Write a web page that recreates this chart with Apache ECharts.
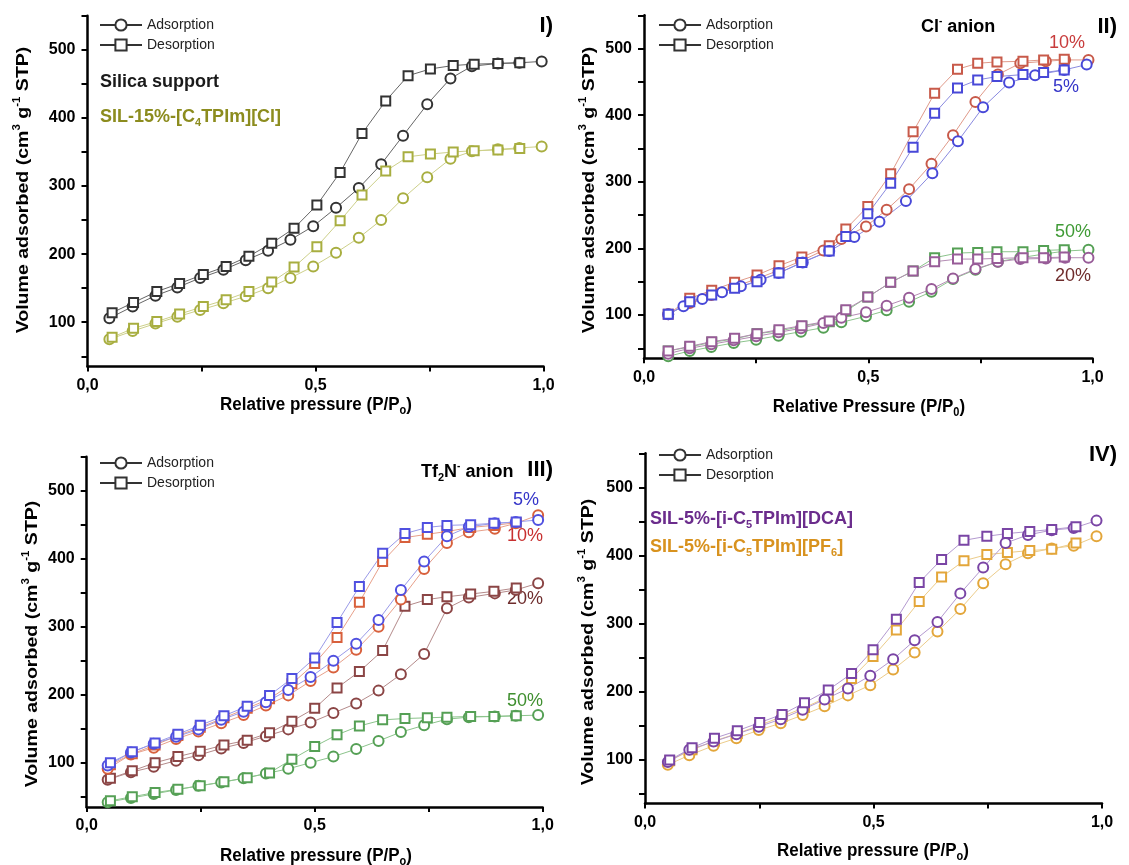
<!DOCTYPE html>
<html>
<head>
<meta charset="utf-8">
<script src="https://cdn.jsdelivr.net/npm/echarts@6/dist/echarts.min.js"></script>
<style>
  html, body { margin: 0; padding: 0; background: #fff; }
  #main { width: 1129px; height: 865px; }
</style>
</head>
<body>
<div id="main"></div>
<script>
// ---- panel I : silica support / SIL-15%
var p1AdsX = [0.048,0.099,0.149,0.197,0.247,0.298,0.347,0.396,0.445,0.495,0.545,0.595,0.644,0.692,0.745,0.796,0.843,0.9,0.947,0.996];
var p1DesX = [0.054,0.101,0.152,0.202,0.254,0.304,0.354,0.404,0.453,0.503,0.554,0.602,0.654,0.703,0.752,0.802,0.848,0.9,0.948];
var silicaAds = [106,123,139,151,165,177,191,205,221,241,268,297,332,374,420,458,476,480,481,483];
var silicaDes = [114,129,145,157,170,182,197,216,238,272,320,377,425,462,472,477,479,480,481];
var sil15Ads  = [75,87,98,108,118,128,138,150,165,182,202,224,250,282,313,340,351,354,356,358];
var sil15Des  = [78,91,101,112,123,133,145,159,181,211,249,287,322,343,347,350,352,353,355];

// ---- panel II : Cl- anion
var p2AdsX  = [0.054,0.102,0.15,0.2,0.25,0.3,0.35,0.4,0.44,0.495,0.541,0.591,0.641,0.689,0.739,0.789,0.839,0.896,0.939,0.991];
var p2Ads5X = [0.054,0.088,0.13,0.174,0.216,0.26,0.3,0.354,0.413,0.469,0.525,0.584,0.643,0.7,0.756,0.814,0.872,0.937,0.987];
var p2DesX  = [0.054,0.102,0.151,0.202,0.252,0.301,0.352,0.413,0.45,0.499,0.55,0.6,0.648,0.699,0.744,0.787,0.845,0.891,0.937];
var cl10Ads = [101,118,130,142,154,167,181,197,214,233,258,289,327,370,420,461,478,481,483,483];
var cl10Des = [101,125,137,149,160,174,187,204,229,263,312,375,433,469,478,480,481,483,484];
var cl5Ads  = [101,113,124,134,143,153,163,179,196,217,240,271,313,361,412,449,460,468,476];
var cl5Des  = [101,120,130,140,150,163,179,196,218,252,298,352,403,441,453,458,461,464,468];
var cl50Ads = [38,46,52,58,63,69,75,81,89,98,107,120,135,154,168,180,186,192,196,198];
var cl50Des = [46,52,59,64,72,76,83,90,106,127,149,166,186,193,194,195,195,197,198];
var cl20Ads = [42,50,56,62,68,74,80,88,96,104,114,126,139,155,169,180,184,185,186,186];
var cl20Des = [46,53,60,65,72,78,84,91,108,127,149,166,180,184,184,185,186,186,187];

// ---- panel III : Tf2N- anion
var p3AdsX = [0.046,0.097,0.147,0.196,0.245,0.295,0.344,0.393,0.442,0.491,0.541,0.591,0.64,0.689,0.74,0.79,0.838,0.895,0.941,0.99];
var p3DesX = [0.052,0.1,0.15,0.2,0.249,0.301,0.352,0.401,0.45,0.5,0.549,0.598,0.649,0.698,0.747,0.79,0.842,0.893,0.942];
var tf5Ads  = [96,115,128,138,149,163,175,189,207,226,250,275,310,354,396,433,447,452,454,457];
var tf5Des  = [100,116,129,142,155,169,183,199,224,254,306,359,408,437,446,449,450,452,454];
var tf10Ads = [91,112,122,135,146,158,170,184,199,220,240,266,300,340,385,423,439,444,452,464];
var tf10Des = [97,113,126,140,152,166,180,194,216,246,284,336,396,431,436,440,446,449,453];
var tf20Ads = [75,86,94,103,111,121,129,139,149,159,173,187,206,230,260,327,343,349,354,364];
var tf20Des = [77,88,100,109,117,126,133,144,161,180,210,234,265,330,340,344,348,352,357];
var tf50Ads = [42,48,54,60,66,71,77,84,91,100,109,120,132,145,155,164,167,168,169,170];
var tf50Des = [44,50,56,61,66,72,78,85,105,124,141,154,163,165,166,167,168,168,169];

// ---- panel IV : DCA / PF6
var p4AdsX = [0.05,0.097,0.15,0.2,0.249,0.297,0.345,0.393,0.444,0.493,0.543,0.59,0.64,0.69,0.74,0.789,0.838,0.89,0.938,0.988];
var p4DesX = [0.054,0.103,0.152,0.202,0.251,0.3,0.349,0.401,0.452,0.499,0.55,0.6,0.649,0.698,0.748,0.793,0.842,0.89,0.943];
var dcaAds = [96,114,126,137,148,159,173,188,204,223,247,275,302,344,382,418,430,437,440,451];
var dcaDes = [99,117,131,142,154,166,183,202,226,261,306,360,394,422,428,432,435,438,442];
var pf6Ads = [92,106,120,131,143,153,165,178,194,209,232,257,288,321,359,387,403,410,414,428];
var pf6Des = [98,114,127,138,150,163,176,192,219,251,290,332,368,392,401,404,407,409,418];

var yTicks  = [50,100,150,200,250,300,350,400,450,500,550];
var yLabels = [100,200,300,400,500];
var xLabels = [0,0.5,1];

var FONT = 'Liberation Sans, Arial, sans-serif';

function pts(xs, ys) {
  return ys.map(function (v, i) { return [xs[i], v]; });
}

// grid boxes
var grids = [
  {left: 87.5, top: 15.8,  width: 456, height: 350.7},
  {left: 644,  top: 15.3,  width: 448.5, height: 343},
  {left: 86.7, top: 456.7, width: 456, height: 350.2},
  {left: 645,  top: 453.3, width: 457, height: 350.2}
];

var xAxes = [], yAxes = [];
grids.forEach(function (g, i) {
  xAxes.push({
    type: 'value', gridIndex: i, min: 0, max: 1, interval: 0.25,
    axisLine: {onZero: false, lineStyle: {color: '#000', width: 2.5}},
    axisTick: {length: 5, lineStyle: {color: '#000', width: 2}},
    axisLabel: {customValues: xLabels, margin: 11, fontSize: 16, fontWeight: 'bold', color: '#000', fontFamily: FONT,
      formatter: function (v) { return v.toFixed(1).replace('.', ','); }},
    splitLine: {show: false}
  });
  yAxes.push({
    type: 'value', gridIndex: i, min: 35, max: 550,
    axisLine: {show: true, onZero: false, lineStyle: {color: '#000', width: 2.5}},
    axisTick: {show: true, length: 6, customValues: yTicks, lineStyle: {color: '#000', width: 2}},
    axisLabel: {customValues: yLabels, margin: 12, fontSize: 16, fontWeight: 'bold', color: '#000', fontFamily: FONT},
    splitLine: {show: false}
  });
});

function curve(name, idx, xs, ys, mark, lineCol, markCol) {
  return {
    name: name, type: 'line', xAxisIndex: idx, yAxisIndex: idx,
    data: pts(xs, ys),
    symbol: mark === 'o' ? 'emptyCircle' : 'emptyRect',
    symbolSize: mark === 'o' ? 10 : 9,
    lineStyle: {width: 1, color: lineCol},
    itemStyle: {color: markCol, borderWidth: 1.2},
    emphasis: {disabled: true},
    animation: false
  };
}

var series = [
  // legend stand-ins
  {name: 'Adsorption', type: 'line', data: [], symbol: 'emptyCircle', color: '#333', lineStyle: {width: 1, color: '#333'}, itemStyle: {borderWidth: 1}},
  {name: 'Desorption', type: 'line', data: [], symbol: 'emptyRect', color: '#333', lineStyle: {width: 1, color: '#333'}, itemStyle: {borderWidth: 1}},

  curve('silica-ads', 0, p1AdsX, silicaAds, 'o', '#666', '#333'),
  curve('silica-des', 0, p1DesX, silicaDes, 's', '#666', '#333'),
  curve('sil15-ads', 0, p1AdsX, sil15Ads, 'o', '#cdd08a', '#a8ae40'),
  curve('sil15-des', 0, p1DesX, sil15Des, 's', '#cdd08a', '#a8ae40'),

  curve('cl50-ads', 1, p2AdsX, cl50Ads, 'o', '#8cc48c', '#55a055'),
  curve('cl50-des', 1, p2DesX, cl50Des, 's', '#8cc48c', '#55a055'),
  curve('cl20-ads', 1, p2AdsX, cl20Ads, 'o', '#b48cb4', '#985c98'),
  curve('cl20-des', 1, p2DesX, cl20Des, 's', '#b48cb4', '#985c98'),
  curve('cl10-ads', 1, p2AdsX, cl10Ads, 'o', '#e09a8a', '#c85a4a'),
  curve('cl10-des', 1, p2DesX, cl10Des, 's', '#e09a8a', '#c85a4a'),
  curve('cl5-ads', 1, p2Ads5X, cl5Ads, 'o', '#8a8ae0', '#4848d8'),
  curve('cl5-des', 1, p2DesX, cl5Des, 's', '#8a8ae0', '#4848d8'),

  curve('tf50-ads', 2, p3AdsX, tf50Ads, 'o', '#8cc48c', '#55a055'),
  curve('tf50-des', 2, p3DesX, tf50Des, 's', '#8cc48c', '#55a055'),
  curve('tf20-ads', 2, p3AdsX, tf20Ads, 'o', '#b48a8a', '#8b4545'),
  curve('tf20-des', 2, p3DesX, tf20Des, 's', '#b48a8a', '#8b4545'),
  curve('tf10-ads', 2, p3AdsX, tf10Ads, 'o', '#e8a08a', '#d8603c'),
  curve('tf10-des', 2, p3DesX, tf10Des, 's', '#e8a08a', '#d8603c'),
  curve('tf5-ads', 2, p3AdsX, tf5Ads, 'o', '#9a9ae8', '#5050e0'),
  curve('tf5-des', 2, p3DesX, tf5Des, 's', '#9a9ae8', '#5050e0'),

  curve('pf6-ads', 3, p4AdsX, pf6Ads, 'o', '#eccc8a', '#e3a63a'),
  curve('pf6-des', 3, p4DesX, pf6Des, 's', '#eccc8a', '#e3a63a'),
  curve('dca-ads', 3, p4AdsX, dcaAds, 'o', '#b49ad0', '#7a45a5'),
  curve('dca-des', 3, p4DesX, dcaDes, 's', '#b49ad0', '#7a45a5')
];

var legendPos = [[99, 18], [658, 18], [99, 456], [658, 448]];
var legends = legendPos.map(function (p) {
  return {
    data: ['Adsorption', 'Desorption'], orient: 'vertical', left: p[0], top: p[1],
    padding: 0, itemWidth: 42, itemHeight: 14, itemGap: 6, selectedMode: false,
    textStyle: {fontSize: 14, color: '#222', fontFamily: FONT}
  };
});

var richBase = {
  sub: {fontSize: 11, fontWeight: 'bold', verticalAlign: 'bottom', lineHeight: 11, fontFamily: FONT},
  sup: {fontSize: 10, fontWeight: 'bold', verticalAlign: 'top', lineHeight: 10, fontFamily: FONT}
};

function txt(x, y, text, opt) {
  opt = opt || {};
  return {
    type: 'text', x: x, y: y, rotation: opt.rot || 0, silent: true,
    scaleX: opt.sx || 1, scaleY: opt.sy || 1,
    style: {
      text: text, fill: opt.color || '#000', align: opt.align || 'left', verticalAlign: 'middle',
      fontSize: opt.size || 18, fontWeight: opt.weight || 'bold', fontFamily: FONT,
      lineHeight: 22, rich: richBase
    }
  };
}

var yTitle = 'Volume adsorbed (cm{sup|3} g{sup|-1} STP)';
var yT = {rot: Math.PI / 2, align: 'center', size: 17, sx: 1.15};
var xT = {align: 'center', size: 17, sy: 1.1};
var graphics = [
  // axis titles
  txt(23, 190, yTitle, yT),
  txt(589, 190, yTitle, yT),
  txt(32, 644, yTitle, yT),
  txt(588, 642, yTitle, yT),
  txt(316, 405, 'Relative pressure (P/P{sub|o})', xT),
  txt(869, 407, 'Relative Pressure (P/P{sub|0})', xT),
  txt(316, 856, 'Relative pressure (P/P{sub|o})', xT),
  txt(873, 851, 'Relative pressure (P/P{sub|o})', xT),

  // panel I
  txt(553, 26, 'I)', {align: 'right', size: 22}),
  txt(100, 82, 'Silica support', {color: '#1a1a1a'}),
  txt(100, 117, 'SIL-15%-[C{sub|4}TPIm][Cl]', {color: '#8c8c1e'}),

  // panel II
  txt(921, 27, 'Cl{sup|-} anion'),
  txt(1117, 27, 'II)', {align: 'right', size: 22}),
  txt(1049, 43, '10%', {color: '#c83c3c', weight: 'normal'}),
  txt(1053, 87, '5%', {color: '#3434c8', weight: 'normal'}),
  txt(1055, 232, '50%', {color: '#3f9a35', weight: 'normal'}),
  txt(1055, 276, '20%', {color: '#6e2c2c', weight: 'normal'}),

  // panel III
  txt(421, 472, 'Tf{sub|2}N{sup|-} anion'),
  txt(553, 470, 'III)', {align: 'right', size: 22}),
  txt(513, 500, '5%', {color: '#3434c8', weight: 'normal'}),
  txt(507, 536, '10%', {color: '#c83030', weight: 'normal'}),
  txt(507, 599, '20%', {color: '#6e2c2c', weight: 'normal'}),
  txt(507, 701, '50%', {color: '#3f8f2f', weight: 'normal'}),

  // panel IV
  txt(1117, 455, 'IV)', {align: 'right', size: 22}),
  txt(650, 519, 'SIL-5%-[i-C{sub|5}TPIm][DCA]', {color: '#6b2c8c'}),
  txt(650, 547, 'SIL-5%-[i-C{sub|5}TPIm][PF{sub|6}]', {color: '#d8921e'})
];

var myChart = echarts.init(document.getElementById('main'), null, {renderer: 'canvas'});
myChart.setOption({
  backgroundColor: '#fff',
  animation: false,
  grid: grids,
  xAxis: xAxes,
  yAxis: yAxes,
  legend: legends,
  series: series,
  graphic: graphics
});
</script>
</body>
</html>
